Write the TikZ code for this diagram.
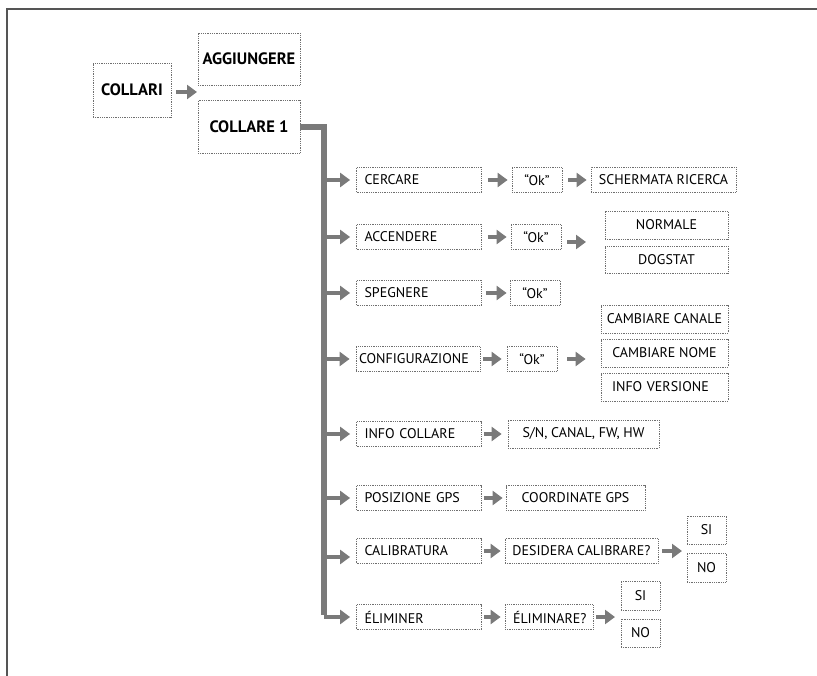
\documentclass[tikz,border=0pt]{standalone}
\usepackage{fontspec}
\setmainfont{PT Sans}
\usepackage{xcolor}
\definecolor{ArrGray}{HTML}{7A7A7A}
\definecolor{BoxGray}{HTML}{6F6F6F}
\definecolor{FrameGray}{HTML}{555555}
\usepackage{tikz}
\usetikzlibrary{arrows.meta}
\newcommand\labfont{\fontsize{14}{16}\selectfont}
\newcommand\headfont{\fontsize{16.5}{18}\selectfont\bfseries}

\begin{document}
\begin{tikzpicture}[x=1pt, y=-1pt,
  box/.style={draw=BoxGray, densely dotted, line width=0.8pt, inner sep=0pt,
              minimum height=25pt, font=\labfont},
  lbox/.style={box, text width=#1, align=left, inner xsep=8pt},
  headbox/.style={box, font=\headfont},
  arr/.style={draw=ArrGray, line width=4pt, -{Triangle[length=10pt, width=14pt]},
              shorten <=6pt, shorten >=4pt}]
  \useasboundingbox (0,0) rectangle (817,676);

  % Frame
  \draw[FrameGray, line width=1.5pt] (7,676) -- (7,9) -- (817,9);

  % Top level
  \node[headbox, minimum width=78pt, minimum height=54pt] (collari) at (132,90) {COLLARI};
  \node[headbox, minimum width=102pt, minimum height=52pt] (aggiungere) at (249,59) {AGGIUNGERE};
  \node[headbox, minimum width=102pt, minimum height=53pt] (collare1) at (249,127) {COLLARE 1};
  \coordinate (topsplit) at (198,92);
  \draw[arr, shorten <=5pt, shorten >=1pt] (collari.east |- topsplit) -- (topsplit);

  % Menu entries of COLLARE 1
  \node[lbox=109pt] (cercare)   at (419,180) {CERCARE};
  \node[lbox=109pt] (accendere) at (419,237) {ACCENDERE};
  \node[lbox=109pt] (spegnere)  at (419,293) {SPEGNERE};
  \node[lbox=108pt, inner xsep=3pt, text width=118pt] (config) at (418,359) {CONFIGURAZIONE};
  \node[lbox=109pt] (infocoll)  at (419,434) {INFO COLLARE};
  \node[lbox=109pt] (posgps)    at (419,498) {POSIZIONE GPS};
  \node[lbox=109pt] (calib)     at (419,551) {CALIBRATURA};
  \node[lbox=109pt] (elim)      at (419,617) {ÉLIMINER};

  % Trunk
  \coordinate (bar) at (324,127);
  \draw[ArrGray, line width=6pt] (collare1.east) -- (bar) -- ([yshift=2pt]bar |- elim.west);
  \foreach \n in {cercare, accendere, spegnere, config, infocoll, posgps, elim}
    \draw[arr, shorten <=0pt, shorten >=6pt] (bar |- \n.west) -- (\n.west);
  \draw[arr, shorten <=0pt, shorten >=6pt] (bar |- 0,557) -- (calib.west |- 0,557);

  % CERCARE
  \node[box, minimum width=50pt] (ok1) at (537,180) {“Ok”};
  \node[box, minimum width=145pt] (ricerca) at (663.5,180) {SCHERMATA RICERCA};
  \draw[arr] (cercare) -- (ok1);
  \draw[arr] (ok1) -- (ricerca);

  % ACCENDERE
  \node[box, minimum width=50pt] (ok2) at (536,237) {“Ok”};
  \node[box, minimum width=123pt, minimum height=28pt] (normale) at (666.5,225) {NORMALE};
  \node[box, minimum width=123pt, minimum height=27pt] (dogstat) at (666.5,259.5) {DOGSTAT};
  \coordinate (accsplit) at (605,242);
  \draw[arr] (accendere) -- (ok2);
  \draw[arr, shorten >=19pt] (ok2.east |- accsplit) -- (accsplit);

  % SPEGNERE
  \node[box, minimum width=50pt] (ok3) at (535,293) {“Ok”};
  \draw[arr, shorten <=4pt, shorten >=3pt] (spegnere) -- (ok3);

  % CONFIGURAZIONE
  \node[box, minimum width=50pt] (ok4) at (532,359) {“Ok”};
  \node[box, minimum width=127pt, minimum height=28pt] (canale) at (664.5,319) {CAMBIARE CANALE};
  \node[box, minimum width=127pt, minimum height=28pt] (nome) at (664.5,353) {CAMBIARE NOME};
  \node[lbox=105pt, minimum height=28pt, inner xsep=11pt] (versione) at (664.5,387) {INFO VERSIONE};
  \draw[arr, shorten <=3pt, shorten >=5pt] (config) -- (ok4);
  \draw[arr, shorten <=10pt, shorten >=15pt] (ok4.east) -- (ok4.east -| nome.west);

  % INFO COLLARE
  \node[box, minimum width=151pt, minimum height=28pt] (sn) at (583.5,434) {S/N, CANAL, FW, HW};
  \draw[arr, shorten <=2pt, shorten >=6pt] (infocoll) -- (sn);

  % POSIZIONE GPS
  \node[box, minimum width=139pt] (coord) at (575.5,498) {COORDINATE GPS};
  \draw[arr, shorten <=2pt, shorten >=3pt] (posgps) -- (coord);

  % CALIBRATURA
  \node[box, minimum width=153pt] (desid) at (581.5,551) {DESIDERA CALIBRARE?};
  \node[box, minimum width=39pt, minimum height=28pt] (si1) at (706.5,530) {SI};
  \node[box, minimum width=39pt, minimum height=29pt] (no1) at (706.5,567.5) {NO};
  \coordinate (calsplit) at (687,551);
  \draw[arr, shorten <=2pt, shorten >=4pt] (calib) -- (desid);
  \draw[arr, shorten <=4pt, shorten >=5pt] (desid.east) -- (calsplit);

  % ELIMINER
  \node[lbox=72pt] (elimq) at (549,617) {ÉLIMINARE?};
  \node[box, minimum width=39pt, minimum height=29pt] (si2) at (640.5,595.5) {SI};
  \node[box, minimum width=39pt, minimum height=28pt] (no2) at (640.5,633) {NO};
  \coordinate (elsplit) at (621,617);
  \draw[arr, shorten <=2pt, shorten >=4pt] (elim) -- (elimq);
  \draw[arr, shorten <=3pt, shorten >=6pt] (elimq.east) -- (elsplit);
\end{tikzpicture}
\end{document}
